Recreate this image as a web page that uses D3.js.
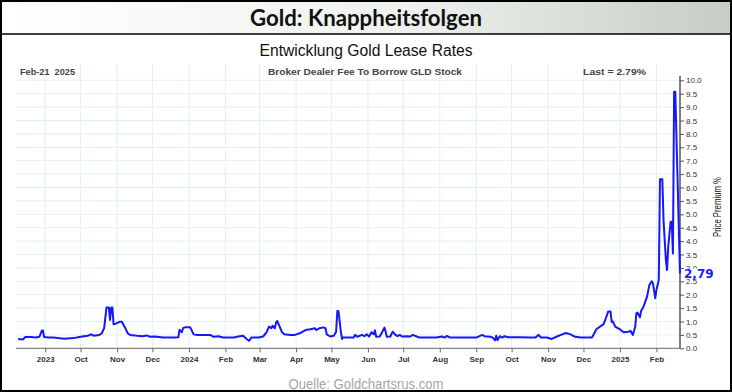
<!DOCTYPE html>
<html>
<head>
<meta charset="utf-8">
<script src="https://cdn.jsdelivr.net/npm/d3@7"></script>
<style>
  body { margin: 0; background: #fff; }
  svg { display: block; }
</style>
</head>
<body>
<div id="chart"></div>
<script>
// Data (broker dealer fee to borrow GLD stock, %)
const dates = [
  "2023-08-09","2023-08-13","2023-08-15","2023-08-20","2023-08-24","2023-08-27","2023-08-29","2023-08-30","2023-08-31",
  "2023-09-04","2023-09-08","2023-09-17","2023-09-25","2023-10-01","2023-10-07","2023-10-10","2023-10-12","2023-10-17",
  "2023-10-19","2023-10-21","2023-10-23","2023-10-25","2023-10-26","2023-10-27","2023-10-28","2023-10-29","2023-10-31",
  "2023-11-03","2023-11-05","2023-11-08","2023-11-10","2023-11-12","2023-11-18","2023-11-23","2023-11-26","2023-11-29",
  "2023-12-03","2023-12-10","2023-12-19","2023-12-23","2023-12-24","2023-12-26","2023-12-27","2023-12-29","2024-01-02",
  "2024-01-05","2024-01-08","2024-01-19","2024-01-22","2024-01-26","2024-01-30","2024-02-08","2024-02-13","2024-02-16",
  "2024-02-19","2024-02-21","2024-02-23","2024-02-29","2024-03-04","2024-03-07","2024-03-09","2024-03-11","2024-03-12",
  "2024-03-14","2024-03-15","2024-03-16","2024-03-18","2024-03-20","2024-03-22","2024-03-27","2024-03-31","2024-04-04",
  "2024-04-09","2024-04-13","2024-04-17","2024-04-18","2024-04-21","2024-04-24","2024-04-26","2024-04-27","2024-04-30",
  "2024-05-03","2024-05-05","2024-05-06","2024-05-07","2024-05-09","2024-05-10","2024-05-11","2024-05-15","2024-05-20",
  "2024-05-21","2024-05-23","2024-05-27","2024-05-29","2024-05-31","2024-06-02","2024-06-04","2024-06-06","2024-06-07",
  "2024-06-08","2024-06-11","2024-06-13","2024-06-15","2024-06-16","2024-06-17","2024-06-20","2024-06-22","2024-06-24",
  "2024-06-26","2024-06-28","2024-06-30","2024-07-04","2024-07-07","2024-07-09","2024-07-13","2024-07-15","2024-07-29",
  "2024-08-03","2024-08-05","2024-08-07","2024-08-10","2024-08-27","2024-09-01","2024-09-06","2024-09-08","2024-09-13",
  "2024-09-15","2024-09-17","2024-09-18","2024-09-19","2024-09-21","2024-09-23","2024-09-25","2024-09-28","2024-10-07",
  "2024-10-17","2024-10-21","2024-10-24","2024-10-26","2024-10-31","2024-11-04","2024-11-08","2024-11-13","2024-11-16",
  "2024-11-20","2024-11-24","2024-11-29","2024-12-08","2024-12-09","2024-12-12","2024-12-15","2024-12-18","2024-12-20",
  "2024-12-22","2024-12-24","2024-12-25","2024-12-26","2024-12-28","2025-01-01","2025-01-04","2025-01-08","2025-01-10",
  "2025-01-12","2025-01-14","2025-01-15","2025-01-16","2025-01-18","2025-01-19","2025-01-21","2025-01-24","2025-01-26",
  "2025-01-28","2025-01-29","2025-01-31","2025-02-01","2025-02-03","2025-02-04","2025-02-06","2025-02-07","2025-02-09",
  "2025-02-10","2025-02-11","2025-02-13","2025-02-14","2025-02-15","2025-02-16","2025-02-17","2025-02-21"
];
const leaseRates = [
  0.35,0.33,0.42,0.42,0.40,0.43,0.65,0.67,0.42,
  0.40,0.40,0.36,0.38,0.43,0.47,0.52,0.47,0.50,
  0.56,0.75,1.52,1.52,1.06,1.52,1.52,0.90,0.92,
  0.99,0.99,0.75,0.56,0.50,0.47,0.45,0.48,0.43,
  0.44,0.40,0.40,0.41,0.69,0.60,0.75,0.79,0.79,
  0.52,0.50,0.50,0.43,0.45,0.40,0.40,0.45,0.47,
  0.35,0.28,0.40,0.40,0.44,0.60,0.81,0.75,0.84,
  0.75,0.97,1.02,0.81,0.60,0.52,0.50,0.50,0.56,
  0.68,0.71,0.75,0.68,0.75,0.78,0.75,0.52,0.44,
  0.47,0.62,1.39,1.39,0.62,0.35,0.40,0.40,0.40,
  0.50,0.43,0.50,0.45,0.52,0.44,0.60,0.52,0.67,
  0.43,0.44,0.60,0.77,0.63,0.43,0.44,0.62,0.52,
  0.45,0.50,0.44,0.45,0.44,0.50,0.43,0.40,0.40,
  0.44,0.40,0.46,0.40,0.40,0.40,0.50,0.45,0.43,
  0.40,0.30,0.47,0.30,0.45,0.40,0.45,0.41,0.41,
  0.40,0.40,0.50,0.40,0.40,0.35,0.43,0.52,0.57,
  0.52,0.43,0.40,0.40,0.46,0.71,0.81,0.89,1.12,
  1.37,1.37,0.99,1.00,0.81,0.71,0.60,0.62,0.65,
  0.50,0.81,1.31,1.33,1.16,1.40,1.55,1.93,2.36,
  2.50,2.43,1.87,2.18,2.55,6.31,6.31,4.79,3.30,
  2.92,3.79,4.72,4.72,3.54,9.57,9.57,2.79
];
const monthTicks = [
  "2023-09-01","2023-10-01","2023-11-01","2023-12-01","2024-01-01","2024-02-01","2024-03-01","2024-04-01","2024-05-01",
  "2024-06-01","2024-07-01","2024-08-01","2024-09-01","2024-10-01","2024-11-01","2024-12-01","2025-01-01","2025-02-01"
];
const monthLabels = ["2023","Oct","Nov","Dec","2024","Feb","Mar","Apr","May","Jun","Jul","Aug","Sep","Oct","Nov","Dec","2025","Feb"];
const yTicks = [0,0.5,1,1.5,2,2.5,3,3.5,4,4.5,5,5.5,6,6.5,7,7.5,8,8.5,9,9.5,10];
const lastValue = 2.79;

const W = 732, H = 392;
const plot = { left: 16, right: 680, top: 64, bottom: 348.3 };
const parse = d3.utcParse("%Y-%m-%d");

const svg = d3.select("#chart")
              .append("svg")
              .attr("width", W)
              .attr("height", H);

// title band
const grad = svg.append("defs").append("linearGradient")
                .attr("id", "band").attr("x1", 0).attr("x2", 1).attr("y1", 0).attr("y2", 0);
grad.append("stop").attr("offset", "0%").attr("stop-color", "#ffffff");
grad.append("stop").attr("offset", "55%").attr("stop-color", "#eef1ee");
grad.append("stop").attr("offset", "100%").attr("stop-color", "#c5cdc5");

svg.append("rect").attr("x", 0).attr("y", 0).attr("width", W).attr("height", 34).attr("fill", "url(#band)");
svg.append("line").attr("x1", 0).attr("x2", W).attr("y1", 34).attr("y2", 34)
   .attr("stroke", "#000").attr("stroke-width", 1.5);

svg.append("text")
   .attr("x", W / 2).attr("y", 26)
   .attr("text-anchor", "middle")
   .attr("font-family", "Lato, 'Open Sans', sans-serif")
   .attr("font-weight", "bold")
   .attr("font-size", "23px")
   .attr("fill", "#111")
   .attr("textLength", 232).attr("lengthAdjust", "spacingAndGlyphs")
   .text("Gold: Knappheitsfolgen");

svg.append("text")
   .attr("x", W / 2).attr("y", 56)
   .attr("text-anchor", "middle")
   .attr("font-family", "'Liberation Sans Narrow', 'Liberation Sans', sans-serif")
   .attr("font-size", "16px")
   .attr("fill", "#111")
   .attr("textLength", 213).attr("lengthAdjust", "spacingAndGlyphs")
   .text("Entwicklung Gold Lease Rates");

// scales
const x = d3.scaleUtc()
            .domain([parse("2023-08-08"), parse("2025-02-21")])
            .range([17, plot.right]);

const y = d3.scaleLinear()
            .domain([0, 10])
            .range([plot.bottom, 80.3]);

const tickDates = monthTicks.map(parse);

// grid
svg.append("g")
   .selectAll("line")
   .data(yTicks.filter(d => d > 0))
   .join("line")
   .attr("x1", plot.left).attr("x2", plot.right)
   .attr("y1", d => y(d)).attr("y2", d => y(d))
   .attr("stroke", "#e3eff7").attr("stroke-width", 1);

svg.append("g")
   .selectAll("line")
   .data(tickDates)
   .join("line")
   .attr("x1", d => x(d)).attr("x2", d => x(d))
   .attr("y1", plot.top).attr("y2", plot.bottom)
   .attr("stroke", "#e3eff7").attr("stroke-width", 1);

// header row
const header = svg.append("g")
                  .attr("font-family", "'Liberation Sans', Arial, sans-serif")
                  .attr("font-size", "9px")
                  .attr("font-weight", "bold")
                  .attr("fill", "#444");
header.append("text").attr("x", 20).attr("y", 75)
      .attr("xml:space", "preserve")
      .attr("textLength", 55).attr("lengthAdjust", "spacingAndGlyphs")
      .text("Feb-21  2025");
header.append("text").attr("x", 268).attr("y", 75)
      .attr("textLength", 194).attr("lengthAdjust", "spacingAndGlyphs")
      .text("Broker Dealer Fee To Borrow GLD Stock");
header.append("text").attr("x", 583).attr("y", 75)
      .attr("textLength", 63).attr("lengthAdjust", "spacingAndGlyphs")
      .text("Last = 2.79%");

// axes
const xAxisCall = d3.axisBottom(x)
                    .tickValues(tickDates)
                    .tickFormat((d, i) => monthLabels[i])
                    .tickSize(4)
                    .tickSizeOuter(0);

const xAxis = svg.append("g")
                 .attr("transform", `translate(0, ${plot.bottom})`)
                 .call(xAxisCall);
xAxis.select(".domain").attr("d", `M${plot.left},0H${plot.right}`).attr("stroke", "#666");
xAxis.selectAll(".tick line").attr("stroke", "#666");
xAxis.selectAll("text")
     .attr("font-family", "'Liberation Sans', Arial, sans-serif")
     .attr("font-size", "8px")
     .attr("font-weight", "bold")
     .attr("fill", "#333")
     .attr("dy", "0.9em");

const yAxisCall = d3.axisRight(y)
                    .tickValues(yTicks)
                    .tickFormat(d3.format(".1f"))
                    .tickSize(4)
                    .tickSizeOuter(0);

const yAxis = svg.append("g")
                 .attr("transform", `translate(${plot.right}, 0)`)
                 .call(yAxisCall);
yAxis.select(".domain").attr("d", `M0,${plot.top + 12}V${plot.bottom}`).attr("stroke", "#555").attr("stroke-width", 1.5);
yAxis.selectAll(".tick line").attr("stroke", "#555");
yAxis.selectAll("text")
     .attr("font-family", "'Liberation Sans', Arial, sans-serif")
     .attr("font-size", "8px")
     .attr("fill", "#333")
     .attr("x", 6);

svg.append("text")
   .attr("transform", `translate(721, 207) rotate(-90)`)
   .attr("text-anchor", "middle")
   .attr("font-family", "'Liberation Sans Narrow', 'Liberation Sans', sans-serif")
   .attr("font-size", "10px")
   .attr("fill", "#111")
   .attr("textLength", 60).attr("lengthAdjust", "spacingAndGlyphs")
   .text("Price Premium %");

// series
const series = dates.map((d, i) => ({ date: parse(d), value: leaseRates[i] }));

const line = d3.line()
               .x(d => x(d.date))
               .y(d => y(d.value));

svg.append("path")
   .datum(series)
   .attr("d", line)
   .attr("fill", "none")
   .attr("stroke", "#1616ff")
   .attr("stroke-width", 2)
   .attr("stroke-linejoin", "round");

// last value label
svg.append("rect")
   .attr("x", 684).attr("y", y(lastValue) - 5)
   .attr("width", 31).attr("height", 10)
   .attr("fill", "#fff");
svg.append("text")
   .attr("x", 684).attr("y", y(lastValue) + 4.5)
   .attr("font-family", "'DejaVu Sans', Verdana, sans-serif")
   .attr("font-size", "12px")
   .attr("font-weight", "bold")
   .attr("fill", "#1a1aff")
   .text(String(lastValue).replace(".", ","));

// source
svg.append("text")
   .attr("x", 366).attr("y", 389)
   .attr("text-anchor", "middle")
   .attr("font-family", "'Liberation Sans Narrow', 'Liberation Sans', sans-serif")
   .attr("font-size", "14px")
   .attr("fill", "#a6a6a6")
   .attr("textLength", 155).attr("lengthAdjust", "spacingAndGlyphs")
   .text("Quelle: Goldchartsrus.com");

// outer frame
svg.append("rect")
   .attr("x", 1).attr("y", 1)
   .attr("width", W - 2).attr("height", H - 2)
   .attr("fill", "none")
   .attr("stroke", "#000")
   .attr("stroke-width", 2);
</script>
</body>
</html>
